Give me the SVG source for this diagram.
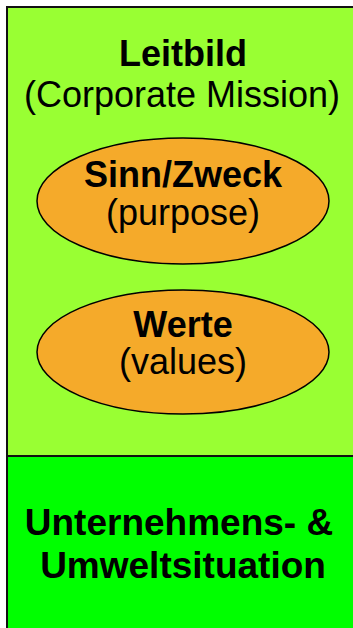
<svg xmlns="http://www.w3.org/2000/svg" width="353" height="628" viewBox="0 0 353 628">
  <style>
    .panel { stroke: #111; stroke-width: 2; }
    .oval { fill: #F5AA2A; stroke: #000; stroke-width: 1.5; }
    text { font-family: "Liberation Sans", Arial, sans-serif; font-size: 36px; fill: #000; text-anchor: middle; }
    .b { font-weight: bold; }
    .big { font-size: 37px; }
  </style>
  <rect width="353" height="628" fill="#fff"/>
  <g id="leitbild">
    <rect class="panel" x="7" y="7" width="360" height="449" fill="#99FF33"/>
    <text class="b" x="183" y="66">Leitbild</text>
    <text x="182" y="107">(Corporate Mission)</text>
  </g>
  <g id="sinn-zweck">
    <ellipse class="oval" cx="183" cy="201" rx="146" ry="63"/>
    <text class="b" x="183" y="187">Sinn/Zweck</text>
    <text x="183" y="225">(purpose)</text>
  </g>
  <g id="werte">
    <ellipse class="oval" cx="183" cy="352" rx="146" ry="62"/>
    <text class="b" x="183" y="337">Werte</text>
    <text x="183" y="374">(values)</text>
  </g>
  <g id="situation">
    <rect class="panel" x="7" y="456" width="360" height="190" fill="#00FF00"/>
    <text class="b big" x="179" y="535">Unternehmens- &amp;</text>
    <text class="b big" x="183" y="578">Umweltsituation</text>
  </g>
  <g id="connectors"/>
</svg>
